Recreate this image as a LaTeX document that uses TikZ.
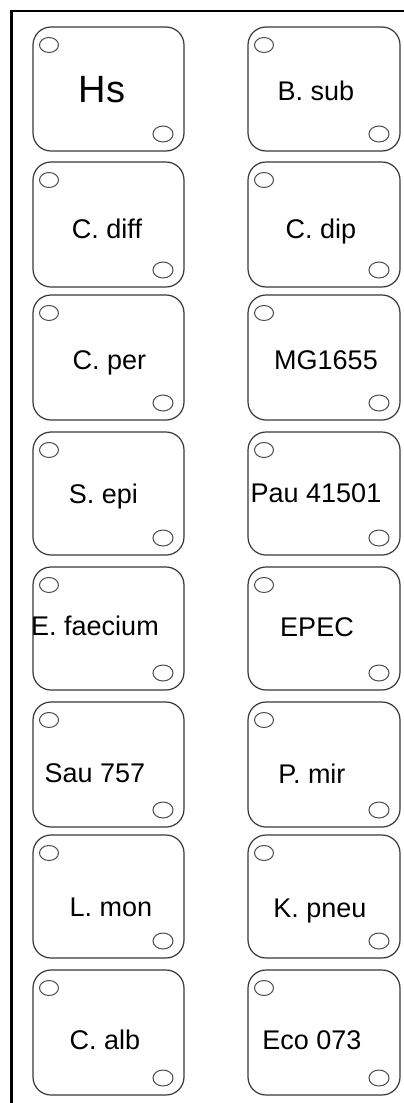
\documentclass[tikz,border=0pt]{standalone}
\usepackage{fontspec}
\setmainfont{Liberation Sans}
\begin{document}
\begin{tikzpicture}[x=1pt,y=-1pt,
  well/.style={draw=black!78,line width=1.2pt,rounded corners=18pt},
  hole/.style={draw=black!70,line width=1pt},
  lab/.style={anchor=base,inner sep=0pt,font=\fontsize{27}{30}\selectfont},
  biglab/.style={anchor=base,inner sep=0pt,font=\fontsize{38}{42}\selectfont},
  frame/.style={draw=black,line cap=rect}]
\useasboundingbox (0,0) rectangle (404,1103);
\fill[white] (0,0) rectangle (404,1103);
% frame
\draw[frame,line width=3pt] (11.5,1103) -- (11.5,11);
\draw[frame,line width=2.2pt] (11.5,11) -- (404,11);
% cell macro: name, left, top, right, bottom
\newcommand{\wellcell}[5]{%
  \draw[well] (#2,#3) rectangle (#4,#5);
  \coordinate (#1) at ({(#2+#4)/2},{(#3+#5)/2});
  \draw[hole] ({#2+16},{#3+18}) ellipse (9.5 and 7.5);
  \draw[hole] ({#4-21},{#5-17}) ellipse (10 and 8);
}
% left column
\wellcell{w1}{33}{27}{184}{151}
\wellcell{w3}{33}{162}{184}{287}
\wellcell{w5}{33}{295}{184}{420}
\wellcell{w7}{33}{432}{184}{555}
\wellcell{w9}{33}{567}{184}{690}
\wellcell{w11}{33}{702}{184}{827}
\wellcell{w13}{33}{835}{184}{958}
\wellcell{w15}{33}{970}{184}{1095}
% right column
\wellcell{w2}{248}{27}{400}{151}
\wellcell{w4}{248}{162}{400}{287}
\wellcell{w6}{248}{295}{400}{420}
\wellcell{w8}{248}{432}{400}{555}
\wellcell{w10}{248}{567}{400}{690}
\wellcell{w12}{248}{702}{400}{827}
\wellcell{w14}{248}{835}{400}{958}
\wellcell{w16}{248}{970}{400}{1095}
% labels (baseline positions)
\node[biglab] (t1) at (102,102) {Hs};
\node[lab] (t2) at (316,100) {B. sub};
\node[lab] (t3) at (107,238) {C. diff};
\node[lab] (t4) at (321,238) {C. dip};
\node[lab] (t5) at (109.5,369) {C. per};
\node[lab] (t6) at (326,369.5) {MG1655};
\node[lab] (t7) at (103.5,503.5) {S. epi};
\node[lab] (t8) at (316,502.5) {Pau 41501};
\node[lab] (t9) at (95,635) {E. faecium};
\node[lab] (t10) at (317,636) {EPEC};
\node[lab] (t11) at (95,782.5) {Sau 757};
\node[lab] (t12) at (312,783) {P. mir};
\node[lab] (t13) at (111,916.5) {L. mon};
\node[lab] (t14) at (320,917) {K. pneu};
\node[lab] (t15) at (105,1049.5) {C. alb};
\node[lab] (t16) at (312,1049.5) {Eco 073};
\end{tikzpicture}
\end{document}
